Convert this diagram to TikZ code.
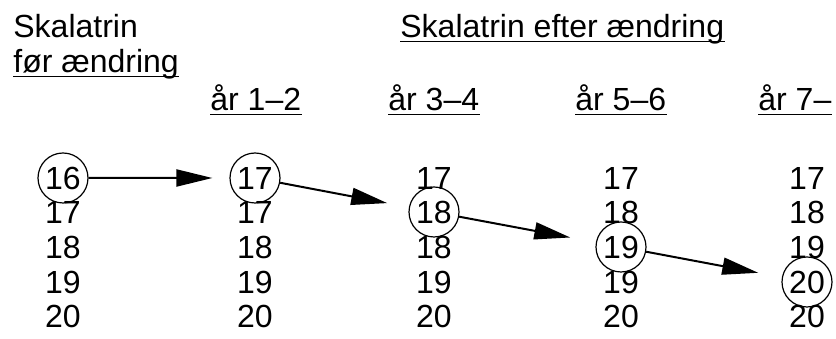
\documentclass[tikz,border=0pt]{standalone}
\usepackage{fontspec}
\setmainfont{Liberation Sans}
\usetikzlibrary{arrows.meta}

\begin{document}
\begin{tikzpicture}[
    x=0.5pt, y=-0.5pt,
    lbl/.style={inner sep=0pt, anchor=base west, font=\fontsize{16}{19}\selectfont},
    num/.style={inner sep=0pt, anchor=base, font=\fontsize{16}{19}\selectfont},
    sel/.style={num, circle, draw, line width=0.6pt, minimum size=25pt},
    uline/.style={line width=0.75pt},
    arrow/.style={-{Triangle[length=18pt, width=8.5pt]}, line width=1pt, shorten >=12pt},
]
\useasboundingbox (0,0) rectangle (836,338);

% headings
\node[lbl] (before) at (13, 37) {Skalatrin};
\node[lbl] (beforeB) at (13, 72) {før ændring};
\node[lbl] (after) at (400, 37) {Skalatrin efter ændring};
\node[lbl] (yrA) at (210, 110) {år 1–2};
\node[lbl] (yrB) at (388, 110) {år 3–4};
\node[lbl] (yrC) at (575, 110) {år 5–6};
\node[lbl] (yrD) at (758, 110) {år 7–};

\foreach \n in {beforeB, after, yrA, yrB, yrC, yrD}
  \draw[uline] ([yshift=-2.2pt]\n.base west) -- ([yshift=-2.2pt]\n.base east);

% before the change
\node[sel] (f1) at (63, 189) {16};
\node[num] (f2) at (63, 223) {17};
\node[num] (f3) at (63, 258) {18};
\node[num] (f4) at (63, 293) {19};
\node[num] (f5) at (63, 327) {20};

% year 1-2
\node[sel] (a1) at (255, 189) {17};
\node[num] (a2) at (255, 223) {17};
\node[num] (a3) at (255, 258) {18};
\node[num] (a4) at (255, 293) {19};
\node[num] (a5) at (255, 327) {20};

% year 3-4
\node[num] (b1) at (434, 189) {17};
\node[sel] (b2) at (434, 223) {18};
\node[num] (b3) at (434, 258) {18};
\node[num] (b4) at (434, 293) {19};
\node[num] (b5) at (434, 327) {20};

% year 5-6
\node[num] (c1) at (621, 189) {17};
\node[num] (c2) at (621, 223) {18};
\node[sel] (c3) at (621, 258) {19};
\node[num] (c4) at (621, 293) {19};
\node[num] (c5) at (621, 327) {20};

% year 7-
\node[num] (d1) at (807, 189) {17};
\node[num] (d2) at (807, 223) {18};
\node[num] (d3) at (807, 258) {19};
\node[sel] (d4) at (807, 293) {20};
\node[num] (d5) at (807, 327) {20};

\draw[arrow, shorten >=8.5pt] (f1) -- (a1);
\draw[arrow, shorten >=11pt] (a1) -- (b2);
\draw[arrow, shorten >=13pt] (b2) -- (c3);
\draw[arrow] (c3) -- (d4);

\end{tikzpicture}
\end{document}
